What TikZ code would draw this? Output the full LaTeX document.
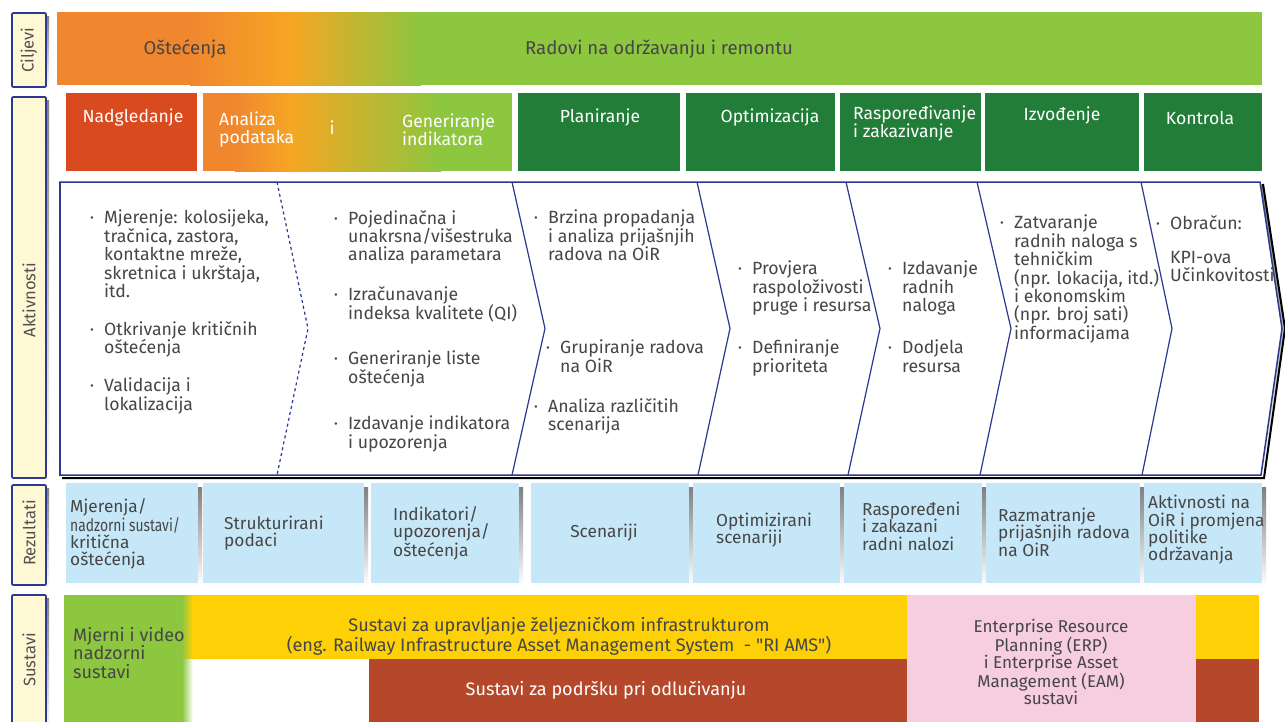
\documentclass[tikz,border=0pt]{standalone}
\usepackage{fontspec}
\setmainfont{Fira Sans}[Ligatures=TeXOff]
\usepackage{graphicx}
\definecolor{navy}{HTML}{2B3990}
\definecolor{paleyel}{HTML}{FFF8D4}
\definecolor{shade}{HTML}{7E8185}
\definecolor{orng}{HTML}{F0872F}
\definecolor{yorng}{HTML}{F6A623}
\definecolor{lgreen}{HTML}{8DC63F}
\definecolor{dgreen}{HTML}{217D37}
\definecolor{redor}{HTML}{DA4A1F}
\definecolor{resblue}{HTML}{C6E7F7}
\definecolor{sysyel}{HTML}{FED106}
\definecolor{sysbrown}{HTML}{B5482A}
\definecolor{syspink}{HTML}{F7CEDF}
\definecolor{txtgrey}{HTML}{464646}
\definecolor{lblgrey}{HTML}{505050}
\newcommand{\itemdot}{\makebox[0pt][r]{·\hspace{10pt}}}
\begin{document}
\begin{tikzpicture}[scale=0.35]
		\tikzstyle{every node}+=[inner sep=0pt]
		\tikzstyle{sidebox}=[draw=navy, line width=1.6pt, fill=paleyel, rounded corners=1pt]
		\tikzstyle{lbl}=[rotate=90, text=lblgrey, font=\fontsize{16.5}{17}\selectfont]
		\tikzstyle{goal}=[text=txtgrey, font=\fontsize{18.5}{19}\selectfont]
		\tikzstyle{head}=[text=white, align=left, font=\fontsize{17.5}{17.5}\selectfont]
		\tikzstyle{act}=[anchor=north west, align=left, text=txtgrey, font=\fontsize{17.6}{18.3}\selectfont]
		\tikzstyle{chev}=[navy, line width=1.2pt]
		\tikzstyle{resbox}=[fill=resblue]
		\tikzstyle{res}=[anchor=west, align=left, text=txtgrey, font=\fontsize{17.2}{17.3}\selectfont]
		\tikzstyle{sys}=[text=txtgrey, align=center, font=\fontsize{18}{18}\selectfont]
		\useasboundingbox (0,0) rectangle (128.5,-72.1);
		\fill [white] (0,0) rectangle (128.5,-72.1);
		\fill [shade] (1.5,-1.6) rectangle (4.9,-9.0);
		\draw [sidebox] (1.2,-1.3) rectangle (4.6,-8.7);
		\draw (2.9,-5.0) node [lbl] (lcilj) {Ciljevi};
		\fill [shade] (1.5,-10.0) rectangle (4.9,-48.1);
		\draw [sidebox] (1.2,-9.7) rectangle (4.6,-47.8);
		\draw (2.9,-30.0) node [lbl] (lakt) {Aktivnosti};
		\fill [shade] (1.5,-48.8) rectangle (4.9,-58.8);
		\draw [sidebox] (1.2,-48.5) rectangle (4.6,-58.5);
		\draw (2.9,-53.3) node [lbl] (lrez) {Rezultati};
		\fill [shade] (1.5,-59.8) rectangle (4.9,-73.5);
		\draw [sidebox] (1.2,-59.5) rectangle (4.6,-73.5);
		\draw (2.9,-66.0) node [lbl] (lsus) {Sustavi};
		\fill [orng] (5.7,-1.2) rectangle (19.1,-8.5);
		\fill [left color=orng, right color=yorng] (19,-1.2) rectangle (29.1,-8.5);
		\fill [left color=yorng, right color=lgreen] (29,-1.2) rectangle (42.1,-8.5);
		\fill [lgreen] (42,-1.2) rectangle (126.2,-8.5);
		\draw (18.5,-4.9) node [goal] (goal1) {Oštećenja};
		\draw (65.9,-4.9) node [goal] (goal2) {Radovi na održavanju i remontu};
		\fill [redor] (6.6,-9.3) rectangle (19.7,-17.1);
		\fill [orng] (20.3,-9.3) rectangle (23.6,-17.1);
		\fill [left color=orng, right color=yorng] (23.5,-9.3) rectangle (29.1,-17.1);
		\fill [left color=yorng, right color=lgreen] (29,-9.3) rectangle (44.1,-17.1);
		\fill [lgreen] (44,-9.3) rectangle (51.2,-17.1);
		\fill [dgreen] (51.8,-9.3) rectangle (68.0,-17.1);
		\fill [dgreen] (68.6,-9.3) rectangle (83.5,-17.1);
		\fill [dgreen] (84.0,-9.3) rectangle (98.1,-17.1);
		\fill [dgreen] (98.5,-9.3) rectangle (113.9,-17.1);
		\fill [dgreen] (114.4,-9.3) rectangle (126.2,-17.1);
		\draw (13.3,-11.8) node [head] (hd1) {Nadgledanje};
		\draw (21.9,-12.95) node [head, anchor=west] (hd2) {Analiza\\podataka};
		\draw (33.2,-12.8) node [head] (hd2i) {i};
		\draw (40.2,-12.95) node [head, anchor=west] (hd3) {Generiranje\\indikatora};
		\draw (60.0,-11.8) node [head] (hd4) {Planiranje};
		\draw (77.0,-11.8) node [head] (hd5) {Optimizacija};
		\draw (85.3,-12.35) node [head, anchor=west] (hd6) {Raspoređivanje\\i zakazivanje};
		\draw (106.2,-11.6) node [head] (hd7) {Izvođenje};
		\draw (120.0,-11.8) node [head] (hd8) {Kontrola};
		\draw [shade, line width=2pt] (126.3,-18.4) -- (128.5,-32.85) -- (126.4,-47.8) -- (6.2,-47.8);
		\draw [navy, line width=1.5pt, fill=white] (6.0,-18.2) -- (126.0,-18.2) -- (128.2,-32.85) -- (126.1,-47.5) -- (6.0,-47.5) -- cycle;
		\draw [chev, dashed] (27.7,-18.2) -- (30.8,-32.85) -- (27.7,-47.5);
		\draw [chev] (51.2,-18.2) -- (54.5,-32.85) -- (51.2,-47.5);
		\draw [chev] (69.7,-18.2) -- (73.0,-32.85) -- (69.8,-47.5);
		\draw [chev] (84.6,-18.2) -- (88.0,-32.85) -- (84.8,-47.5);
		\draw [chev] (97.7,-18.2) -- (101.1,-32.85) -- (98.0,-47.5);
		\draw [chev] (114.1,-18.2) -- (117.2,-32.85) -- (114.2,-47.5);
		\draw (10.4,-21.0) node [act] (a11) {\itemdot Mjerenje: kolosijeka,\\tračnica, zastora,\\kontaktne mreže,\\skretnica i ukrštaja,\\itd.};
		\draw (10.4,-32.1) node [act] (a12) {\itemdot Otkrivanje kritičnih\\oštećenja};
		\draw (10.4,-37.8) node [act] (a13) {\itemdot Validacija i\\lokalizacija};
		\draw (34.8,-21.0) node [act] (a21) {\itemdot Pojedinačna i\\unakrsna/višestruka\\analiza parametara};
		\draw (34.8,-28.6) node [act] (a22) {\itemdot Izračunavanje\\indeksa kvalitete (QI)};
		\draw (34.8,-35.1) node [act] (a23) {\itemdot Generiranje liste\\oštećenja};
		\draw (34.8,-41.6) node [act] (a24) {\itemdot Izdavanje indikatora\\i upozorenja};
		\draw (54.8,-21.0) node [act] (a31) {\itemdot Brzina propadanja\\i analiza prijašnjih\\radova na OiR};
		\draw (56.0,-34.0) node [act] (a32) {\itemdot Grupiranje radova\\na OiR};
		\draw (54.8,-39.8) node [act] (a33) {\itemdot Analiza različitih\\scenarija};
		\draw (75.2,-26.1) node [act] (a41) {\itemdot Provjera\\raspoloživosti\\pruge i resursa};
		\draw (75.2,-34.0) node [act] (a42) {\itemdot Definiranje\\prioriteta};
		\draw (90.2,-26.1) node [act] (a51) {\itemdot Izdavanje\\radnih\\naloga};
		\draw (90.2,-34.0) node [act] (a52) {\itemdot Dodjela\\resursa};
		\draw (101.4,-21.5) node [act] (a61) {\itemdot Zatvaranje\\radnih naloga s\\tehničkim\\(npr. lokacija, itd.)\\i ekonomskim\\(npr. broj sati)\\informacijama};
		\draw (117.0,-21.5) node [act] (a71) {\itemdot Obračun:};
		\draw (117.0,-25.1) node [act] (a72) {KPI-ova\\Učinkovitosti};
		\fill [shade] (7.0,-48.7) rectangle (20.2,-58.6);
		\fill [resbox] (6.6,-48.3) rectangle (19.8,-58.3);
		\fill [shade] (20.7,-48.7) rectangle (36.8,-58.6);
		\fill [resbox] (20.3,-48.3) rectangle (36.4,-58.3);
		\fill [shade] (37.5,-48.7) rectangle (52.3,-58.6);
		\fill [resbox] (37.1,-48.3) rectangle (51.9,-58.3);
		\fill [shade] (53.5,-48.7) rectangle (69.3,-58.6);
		\fill [resbox] (53.1,-48.3) rectangle (68.9,-58.3);
		\fill [shade] (69.7,-48.7) rectangle (84.4,-58.6);
		\fill [resbox] (69.3,-48.3) rectangle (84.0,-58.3);
		\fill [shade] (84.8,-48.7) rectangle (98.6,-58.6);
		\fill [resbox] (84.4,-48.3) rectangle (98.2,-58.3);
		\fill [shade] (99.0,-48.7) rectangle (114.4,-58.6);
		\fill [resbox] (98.6,-48.3) rectangle (114.0,-58.3);
		\fill [shade] (114.8,-48.7) rectangle (126.6,-58.6);
		\fill [resbox] (114.4,-48.3) rectangle (126.2,-58.3);
		\draw (7.0,-53.4) node [res] (r1) {Mjerenja/\\\scalebox{0.8}[1]{nadzorni sustavi/}\\kritična\\oštećenja};
		\draw (22.4,-53.3) node [res] (r2) {Strukturirani\\podaci};
		\draw (39.3,-53.3) node [res] (r3) {Indikatori/\\upozorenja/\\oštećenja};
		\draw (60.4,-53.3) node [res, anchor=center] (r4) {Scenariji};
		\draw (71.6,-53.0) node [res] (r5) {Optimizirani\\scenariji};
		\draw (86.2,-52.6) node [res] (r6) {Raspoređeni\\i zakazani\\radni nalozi};
		\draw (99.8,-53.2) node [res] (r7) {Razmatranje\\prijašnjih radova\\na OiR};
		\draw (114.8,-53.0) node [res] (r8) {Aktivnosti na\\OiR i promjena\\politike\\održavanja};
		\fill [lgreen] (6.4,-59.5) rectangle (18.3,-72.5);
		\fill [left color=lgreen, right color=sysyel] (18.2,-59.5) rectangle (19.3,-65.9);
		\fill [left color=lgreen, right color=white] (18.2,-65.9) rectangle (19.3,-72.5);
		\fill [sysyel] (19.2,-59.5) rectangle (90.7,-65.9);
		\fill [sysbrown] (36.9,-65.9) rectangle (90.7,-72.5);
		\fill [syspink] (90.7,-59.5) rectangle (119.6,-72.5);
		\fill [sysyel] (119.6,-59.5) rectangle (125.9,-65.9);
		\fill [sysbrown] (119.6,-65.9) rectangle (125.9,-72.5);
		\draw (7.3,-65.3) node [sys, anchor=west, align=left] (s1) {Mjerni i video\\nadzorni\\sustavi};
		\draw (55.9,-63.6) node [sys] (s2) {Sustavi za upravljanje željezničkom infrastrukturom\\(eng. Railway Infrastructure Asset Management System\ \ - "RI AMS")};
		\draw (60.6,-69.0) node [sys, text=white] (s3) {Sustavi za podršku pri odlučivanju};
		\draw (105.1,-66.2) node [sys, font=\fontsize{17}{17}\selectfont] (s4) {Enterprise Resource\\Planning (ERP)\\i Enterprise Asset\\Management (EAM)\\sustavi};
	\end{tikzpicture}
\end{document}
